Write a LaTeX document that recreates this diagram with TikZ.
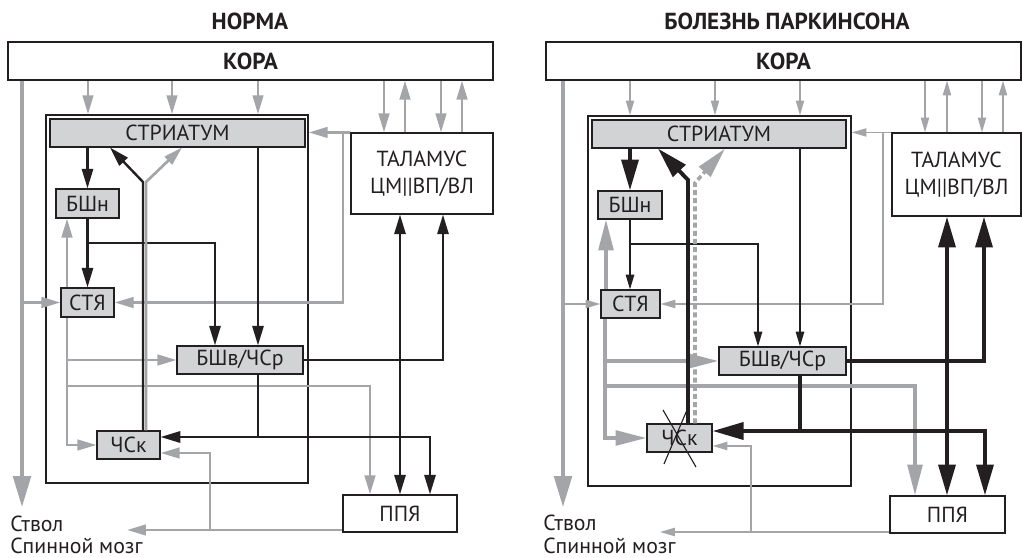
\documentclass[tikz,border=0pt]{standalone}
\usepackage{fontspec}
\setmainfont{PT Sans}
\usetikzlibrary{arrows.meta}
\definecolor{ink}{HTML}{231F20}
\definecolor{arrgray}{HTML}{A3A5A8}
\definecolor{boxgray}{HTML}{D1D3D4}
\newcommand\lbl{\fontsize{15.5}{19.5}\selectfont}
\newcommand\hdr{\fontsize{16.5}{19.5}\selectfont\bfseries}

\begin{document}
\begin{tikzpicture}[x=0.025cm, y=-0.025cm,
  corners/.style n args={4}{minimum width={(#3-#1)*0.025cm},
    minimum height={(#4-#2)*0.025cm}, at={({(#1+#3)/2},{(#2+#4)/2})}},
  box/.style={draw=ink, line width=0.8pt, inner sep=0pt, font=\lbl, text=ink, align=center},
  grbox/.style={box, fill=boxgray},
  frame/.style={draw=ink, line width=1pt, inner sep=0pt},
  ttl/.style={font=\hdr, text=ink, inner sep=0pt},
  txt/.style={font=\lbl, text=ink, inner sep=0pt},
  % normal panel
  gline/.style={draw=arrgray, line width=1.9pt},
  bline/.style={draw=ink, line width=1.7pt},
  garrow/.style={gline, -{Triangle[length=13.5pt, width=7.5pt]}},
  barrow/.style={bline, -{Triangle[length=14pt, width=8pt]}},
  bboth/.style={bline, {Triangle[length=14pt, width=8pt]}-{Triangle[length=14pt, width=8pt]}},
  % parkinson panel
  gthin/.style={draw=arrgray, line width=1.2pt, -{Triangle[length=10.5pt, width=5.8pt]}},
  bthin/.style={draw=ink, line width=1pt, -{Triangle[length=10.5pt, width=6pt]}},
  gthick/.style={draw=arrgray, line width=2.5pt, -{Triangle[length=22pt, width=10.5pt]}},
  bthick/.style={draw=ink, line width=2.8pt, -{Triangle[length=22pt, width=12pt]}},
  bthickline/.style={draw=ink, line width=2.8pt},
  bthickboth/.style={bthickline, {Triangle[length=22pt, width=12pt]}-{Triangle[length=22pt, width=12pt]}},
  trunk/.style={draw=arrgray, line width=2.6pt, -{Triangle[length=22pt, width=12.5pt]}},
  cross/.style={draw=ink, line width=0.8pt},
]
\useasboundingbox (0,0) rectangle (1022,558);

% ===== NORMA =====
\node[ttl, anchor=base] (normT) at (250,30) {НОРМА};
\node[box, font=\hdr, corners={8}{42}{493}{80}] (koraL) {КОРА};
\node[frame, corners={46}{115}{308}{483}] (bgL) {};
\node[grbox, corners={50}{119}{305}{147}] (strL) {СТРИАТУМ};
\node[grbox, corners={56}{189}{119}{218}] (bshnL) {БШн};
\node[grbox, corners={61}{288}{114}{317}] (styL) {СТЯ};
\node[grbox, corners={177}{346}{303}{374}] (bshvL) {БШв/ЧСр};
\node[grbox, corners={97}{431}{160}{459}] (chskL) {ЧСк};
\node[box, corners={351}{133}{493}{214}] (thL) {ТАЛАМУС\\ЦМ||ВП/ВЛ};
\node[box, corners={343}{495}{457}{532}] (ppyaL) {ППЯ};
\node[txt, anchor=base west] (stemL) at (10,531) {Ствол};
\node[txt, anchor=base west] (cordL) at (10,553) {Спинной мозг};

% cortex
\foreach \x in {88,172,258}
  \draw[garrow] (koraL.south -| \x,0) -- (bgL.north -| \x,0);
\foreach \x in {384,441}
  \draw[garrow] (koraL.south -| \x,0) -- (thL.north -| \x,0);
\foreach \x in {405,462}
  \draw[garrow] (thL.north -| \x,0) -- (koraL.south -| \x,0);
\draw[trunk] (koraL.south -| 22,0) -- (22,507);
\draw[garrow] (styL.west -| 22,0) -- (styL.west);

% thalamus back to striatum
\draw[garrow] (thL.north west) -- (bgL.east |- thL.north west);
\draw[garrow] (thL.north west -| 343,0) |- (styL.east);

% striatum outputs
\draw[barrow] (strL.south -| bshnL) -- (bshnL.north);
\draw[barrow] (bshnL.south) -- (styL.north);
\draw[barrow] (bshnL.south |- 0,243) -| (bshvL.north -| 215,0);
\draw[barrow] (strL.south -| 258,0) -- (bshvL.north -| 258,0);

% STN
\draw[garrow] (styL.north -| 67,0) -- (bshnL.south -| 67,0);
\draw[garrow] (styL.south -| 67,0) |- (chskL.west);
\draw[garrow] (bshvL.west -| 67,0) -- (bshvL.west);
\draw[garrow] (67,386) -| (ppyaL.north -| 370,0);

% SNc to striatum
\draw[barrow] (chskL.north -| 143,0) -- (143,182) -- (strL.south -| 110,0);
\draw[garrow] (chskL.north -| 146,0) -- (146,182) -- (strL.south -| 182,0);

% GPi/SNr outputs
\draw[barrow] (bshvL.east) -| (thL.south -| 443,0);
\draw[bboth] (thL.south -| 400,0) -- (ppyaL.north -| 400,0);
\draw[barrow] (bshvL.south -| 258,0) |- (chskL.east |- 0,437);
\draw[barrow] (258,437) -| (ppyaL.north -| 430,0);

% PPN
\draw[garrow] (ppyaL.west |- 0,530) -- (127,530);
\draw[garrow] (210,530) |- (chskL.east |- 0,453);

% ===== PARKINSON =====
\node[ttl, anchor=base] (parkT) at (787,30) {БОЛЕЗНЬ ПАРКИНСОНА};
\node[box, font=\hdr, corners={546}{42}{1021}{80}] (koraR) {КОРА};
\node[frame, corners={588}{116}{851}{486}] (bgR) {};
\node[grbox, corners={592}{120}{846}{148}] (strR) {СТРИАТУМ};
\node[grbox, corners={598}{191}{662}{219}] (bshnR) {БШн};
\node[grbox, corners={601}{290}{660}{318}] (styR) {СТЯ};
\node[grbox, corners={719}{347}{846}{375}] (bshvR) {БШв/ЧСр};
\node[grbox, corners={647}{424}{712}{452}] (chskR) {ЧСк};
\node[box, corners={892}{133}{1021}{216}] (thR) {ТАЛАМУС\\ЦМ||ВП/ВЛ};
\node[box, corners={890}{496}{1005}{533}] (ppyaR) {ППЯ};
\node[txt, anchor=base west] (stemR) at (543,530) {Ствол};
\node[txt, anchor=base west] (cordR) at (543,553) {Спинной мозг};

% cortex
\foreach \x in {630,715,800}
  \draw[gthin] (koraR.south -| \x,0) -- (bgR.north -| \x,0);
\foreach \x in {925,982}
  \draw[gthin] (koraR.south -| \x,0) -- (thR.north -| \x,0);
\foreach \x in {947,1003}
  \draw[gthin] (thR.north -| \x,0) -- (koraR.south -| \x,0);
\draw[trunk] (koraR.south -| 563,0) -- (563,507);
\draw[gthin] (styR.west -| 563,0) -- (styR.west);

% thalamus back to striatum
\draw[gthin] (thR.north west) -- (bgR.east |- thR.north west);
\draw[gthin] (thR.north west -| 883,0) |- (styR.east);

% striatum outputs
\draw[bthick] (strR.south -| bshnR) -- (bshnR.north);
\draw[bthin] (bshnR.south) -- (bshnR.south |- styR.north);
\draw[bthin] (bshnR.south |- 0,244) -| (bshvR.north -| 758,0);
\draw[bthin] (strR.south -| 800,0) -- (bshvR.north -| 800,0);

% STN
\draw[gthick] (styR.north -| 606,0) -- (bshnR.south -| 606,0);
\draw[gthick] (styR.south -| 605,0) |- (chskR.west);
\draw[gthick] (bshvR.west -| 605,0) -- (bshvR.west);
\draw[gthick] (605,386) -| (ppyaR.north -| 915,0);

% SNc to striatum
\draw[bthick] (chskR.north -| 688,0) -- (688,180) -- (strR.south -| 658,0);
\draw[gthick, dash pattern=on 3.6pt off 2.2pt] (chskR.north -| 695,0) -- (695,183) -- (strR.south -| 725,0);

% GPi/SNr outputs
\draw[bthick] (bshvR.east) -| (thR.south -| 984,0);
\draw[bthickboth] (thR.south -| 947,0) -- (ppyaR.north -| 947,0);
\draw[bthick] (bshvR.south -| 800,0) |- (chskR.east |- 0,431);
\draw[bthick] (800,431) -| (ppyaR.north -| 985,0);

% PPN
\draw[gthin] (ppyaR.west |- 0,532) -- (660,532);
\draw[gthin] (751,532) |- (chskR.east |- 0,446);

% lost SNc
\draw[cross] (663,410) -- (696,467) (687,410) -- (664,464);

\end{tikzpicture}
\end{document}
